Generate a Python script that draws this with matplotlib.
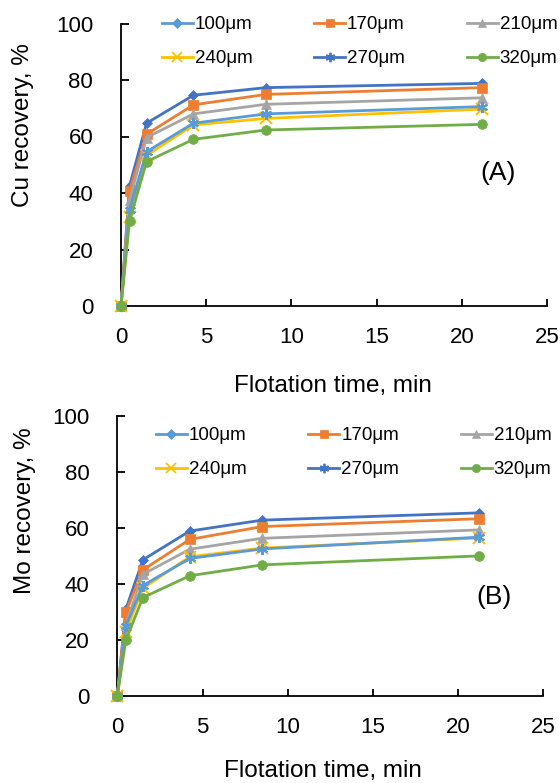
import matplotlib
matplotlib.use("Agg")
import matplotlib.pyplot as plt
from matplotlib.lines import Line2D

plt.rcParams['font.family'] = ['Liberation Sans', 'DejaVu Sans']

# Flotation time (min)
time_min = [0, 0.5, 1.5, 4.25, 8.5, 21.2]
sizes = ["100μm", "170μm", "210μm", "240μm", "270μm", "320μm"]

# Cu recovery (%) per particle size
cu_100 = [0, 42.5, 64.7, 74.6, 77.3, 78.8]
cu_170 = [0, 40.8, 60.8, 71.2, 74.9, 77.3]
cu_210 = [0, 37.5, 59.6, 68.0, 71.4, 73.7]
cu_240 = [0, 31.5, 53.3, 64.1, 66.4, 69.7]
cu_270 = [0, 34.0, 54.6, 64.7, 68.0, 70.6]
cu_320 = [0, 30.2, 51.1, 59.0, 62.3, 64.3]

# Mo recovery (%) per particle size
mo_100 = [0, 31.0, 48.7, 59.0, 62.9, 65.5]
mo_170 = [0, 30.0, 45.1, 56.0, 60.6, 63.4]
mo_210 = [0, 25.5, 43.5, 52.5, 56.4, 59.4]
mo_240 = [0, 23.0, 38.5, 49.8, 52.9, 56.5]
mo_270 = [0, 25.0, 39.5, 49.2, 52.6, 56.8]
mo_320 = [0, 20.0, 35.2, 43.0, 46.9, 50.1]

cu_series = [cu_100, cu_170, cu_210, cu_240, cu_270, cu_320]
mo_series = [mo_100, mo_170, mo_210, mo_240, mo_270, mo_320]

DARK_BLUE = '#4472C4'
LIGHT_BLUE = '#5B9BD5'
line_colors = [DARK_BLUE, '#ED7D31', '#A5A5A5', '#FFC000', LIGHT_BLUE, '#70AD47']
legend_colors = [LIGHT_BLUE, '#ED7D31', '#A5A5A5', '#FFC000', DARK_BLUE, '#70AD47']
markers = ['D', 's', '^', 'x', (6, 2, 0), 'o']
msizes = [5.5, 7.5, 7, 8, 8, 7]

# legend fills column by column; this order gives rows 100/170/210 and 240/270/320
legend_order = [0, 3, 1, 4, 2, 5]


def draw_panel(ax, series, ylabel, tag, tag_xy, ylab_xy, xlab_xy, legend_anchor):
    for vals, c, m, ms in zip(series, line_colors, markers, msizes):
        ax.plot(time_min, vals, color=c, marker=m, markersize=ms, lw=2.0,
                markeredgewidth=1.5 if m in ('x', (6, 2, 0)) else 0.5,
                markeredgecolor=c, markerfacecolor=c, clip_on=False, zorder=3)
    ax.set_xlim(0, 25)
    ax.set_ylim(0, 100)
    ax.set_xticks([0, 5, 10, 15, 20, 25])
    ax.set_yticks([0, 20, 40, 60, 80, 100])
    ax.spines['top'].set_visible(False)
    ax.spines['right'].set_visible(False)
    for s in ('left', 'bottom'):
        ax.spines[s].set_linewidth(1.3)
        ax.spines[s].set_color('black')
    ax.tick_params(axis='y', direction='in', length=6, width=1.3, pad=20,
                   labelsize=16, colors='black')
    ax.tick_params(axis='x', direction='in', length=5, width=1.3, pad=15,
                   labelsize=16, colors='black')
    ax.set_ylabel(ylabel, fontsize=17.5)
    ax.set_xlabel("Flotation time, min", fontsize=17.5)
    ax.yaxis.label.set_va('center')
    ax.xaxis.label.set_va('center')
    ax.yaxis.set_label_coords(*ylab_xy)
    ax.xaxis.set_label_coords(*xlab_xy)
    ax.text(tag_xy[0], tag_xy[1], tag, fontsize=19, ha='center', va='center')

    handles = [Line2D([], [], color=c, marker=m, markersize=ms * 0.85, lw=2.0,
                      markeredgewidth=1.3 if m in ('x', (6, 2, 0)) else 0.5,
                      markeredgecolor=c, markerfacecolor=c)
               for c, m, ms in zip(legend_colors, markers, msizes)]
    fig.legend([handles[i] for i in legend_order],
               [sizes[i] for i in legend_order],
               loc='upper left', bbox_to_anchor=legend_anchor,
               ncol=3, frameon=False, fontsize=13.5, handlelength=1.65,
               handletextpad=0.1, columnspacing=3.3, labelspacing=0.9,
               borderpad=0, borderaxespad=0)


fig = plt.figure(figsize=(5.6, 7.83), dpi=100)
ax_top = fig.add_axes([121 / 560, 1 - 306 / 783, 426 / 560, 282.5 / 783])
ax_bot = fig.add_axes([117.3 / 560, 1 - 696 / 783, 426.2 / 560, 279.6 / 783])

draw_panel(ax_top, cu_series, "Cu recovery, %", "(A)", (22.1, 47),
           (-0.230, 0.641), (0.498, -0.283), (161.7 / 560, 1 - 16 / 783))
draw_panel(ax_bot, mo_series, "Mo recovery, %", "(B)", (22.1, 35.5),
           (-0.2166, 0.662), (0.483, -0.268), (156 / 560, 1 - 427 / 783))

fig.savefig("out.png", dpi=100)
